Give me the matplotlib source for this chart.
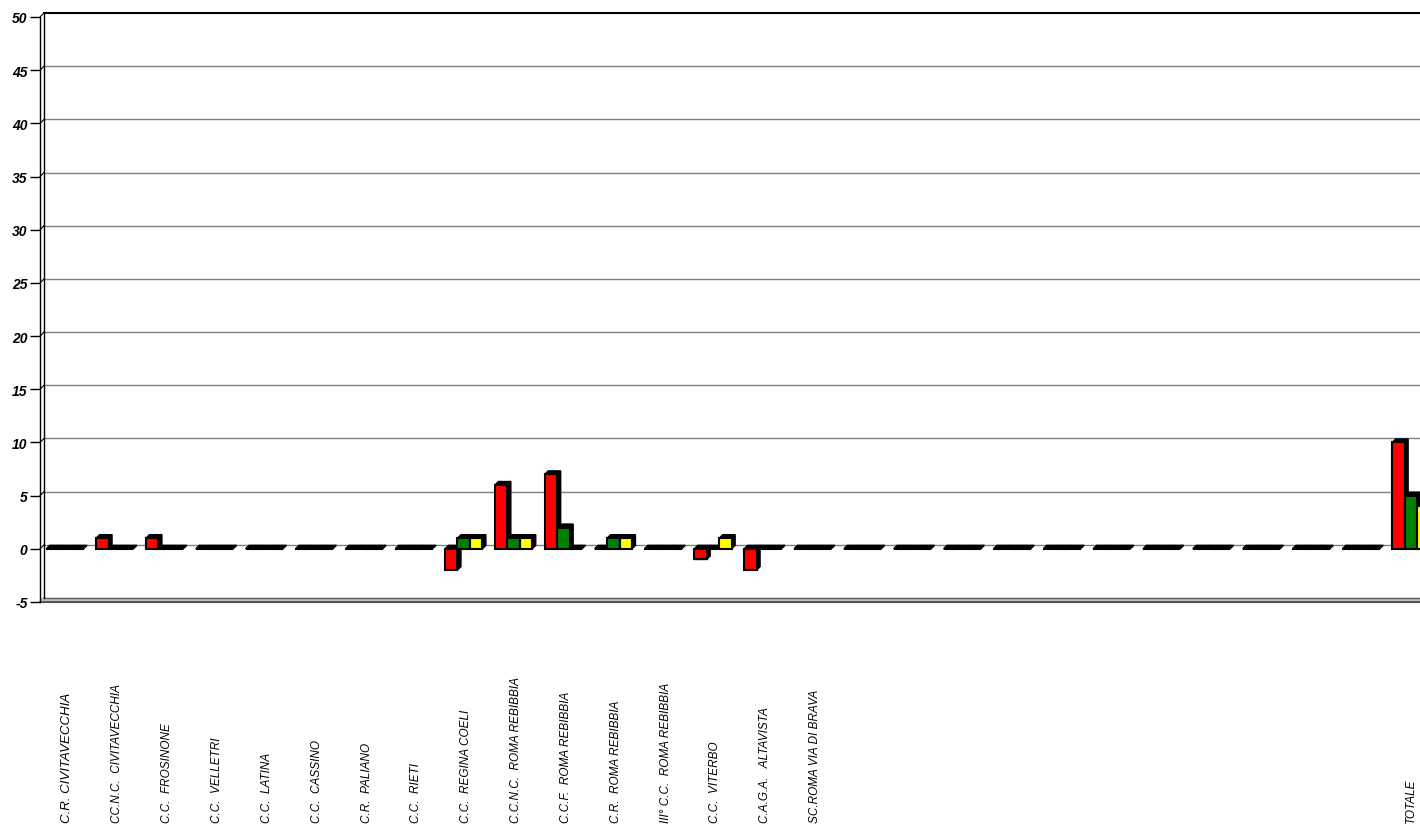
import numpy as np
import matplotlib
matplotlib.use("Agg")
from matplotlib import pyplot as plt
from matplotlib.patches import Polygon
from matplotlib import transforms

plt.rcParams['font.family'] = ['Liberation Sans', 'DejaVu Sans']

categories = [
    "C.R. CIVITAVECCHIA", "CC.N.C.  CIVITAVECCHIA", "C.C.  FROSINONE", "C.C.  VELLETRI",
    "C.C.  LATINA", "C.C.  CASSINO", "C.R.  PALIANO", "C.C.  RIETI",
    "C.C.  REGINA COELI", "C.C.N.C.  ROMA REBIBBIA", "C.C.F.  ROMA REBIBBIA",
    "C.R.  ROMA REBIBBIA", "III° C.C.  ROMA REBIBBIA", "C.C.  VITERBO",
    "C.A.G.A.   ALTAVISTA", "SC.ROMA VIA DI BRAVA",
    "", "", "", "", "", "", "", "", "", "", "",
    "TOTALE",
]
red = [0, 1, 1, 0, 0, 0, 0, 0, -2, 6, 7, 0, 0, -1, -2, 0,
       0, 0, 0, 0, 0, 0, 0, 0, 0, 0, 0, 10]
green = [0, 0, 0, 0, 0, 0, 0, 0, 1, 1, 2, 1, 0, 0, 0, 0,
         0, 0, 0, 0, 0, 0, 0, 0, 0, 0, 0, 5]
yellow = [0, 0, 0, 0, 0, 0, 0, 0, 1, 1, 0, 1, 0, 1, 0, 0,
          0, 0, 0, 0, 0, 0, 0, 0, 0, 0, 0, 4]
yticks = [-5, 0, 5, 10, 15, 20, 25, 30, 35, 40, 45, 50]

W, H = 1420, 828
cat_px = 49.85
fig = plt.figure(figsize=(W / 100, H / 100), dpi=100)
# front plane: x=-0.5 at px 40; 50 at py 18, -5 at py 603
ax = fig.add_axes([40 / W, (H - 603) / H, 1 - 40 / W, (603 - 18) / H])
ax.set_xlim(-0.5, -0.5 + (W - 40) / cat_px)
ax.set_ylim(-5, 50)
for s in ax.spines.values():
    s.set_visible(False)

px_x = 1 / cat_px
px_y = 55 / 585.0
dx, dy = 3.5 * px_x, 3.5 * px_y
wall_dx, wall_dy = 4 * px_x, 4 * px_y
x_right = ax.get_xlim()[1]

# back wall grid lines
for v in yticks[1:-1]:
    ax.plot([-0.5 + wall_dx, x_right], [v + wall_dy] * 2, color='#808080', lw=1, zorder=1)
ax.plot([-0.5 + wall_dx, x_right], [50 + wall_dy] * 2, color='black', lw=1.5, zorder=1, clip_on=False)
# slanted connectors from axis to back wall
for v in yticks:
    ax.plot([-0.5, -0.5 + wall_dx], [v, v + wall_dy], color='black', lw=0.8, zorder=1, clip_on=False)

# floor
ax.fill_between([-0.5, x_right], [-5, -5], [-5 + wall_dy] * 2, color='#c0c0c0', zorder=1, clip_on=False)
ax.plot([-0.5, x_right], [-5, -5], color='#404040', lw=1.2, zorder=1, clip_on=False)
ax.plot([-0.5 + wall_dx, x_right], [-5 + wall_dy] * 2, color='#606060', lw=1, zorder=1, clip_on=False)
# side wall
ax.plot([-0.5, -0.5], [-5, 50], color='black', lw=1, zorder=1, clip_on=False)
ax.plot([-0.5 + wall_dx] * 2, [-5 + wall_dy, 50 + wall_dy], color='black', lw=1, zorder=1, clip_on=False)

x = np.arange(len(categories))
width = 0.25
series = [(red, '#ff0000'), (green, '#008000'), (yellow, '#ffff00')]
for k, (vals, col) in enumerate(series):
    bars = ax.bar(x + (k - 1) * width, vals, width, color=col, edgecolor='black',
                  linewidth=1.5, zorder=4 + k)
    for b in bars:
        x0, x1 = b.get_x(), b.get_x() + b.get_width()
        y0 = min(b.get_y(), b.get_y() + b.get_height())
        y1 = max(b.get_y(), b.get_y() + b.get_height())
        depth = Polygon([(x0, y0), (x1, y0), (x1 + dx, y0 + dy), (x1 + dx, y1 + dy),
                         (x0 + dx, y1 + dy), (x0, y1)], closed=True,
                        facecolor='black', edgecolor='black', lw=1, zorder=3.5 + k)
        ax.add_patch(depth)

ax.set_xticks([])
ax.set_yticks(yticks)
ax.set_yticklabels([str(v) for v in yticks], fontsize=10, fontweight='bold', fontstyle='italic')
ax.tick_params(axis='y', length=7, width=1, direction='out', pad=2)

trans = transforms.blended_transform_factory(ax.transData, fig.transFigure)
for i, lab in enumerate(categories):
    if not lab:
        continue
    fs = 9.5 if i == 0 else 8.5
    off = 0.0 if i == len(categories) - 1 else 0.05
    ax.text(i + off, 5 / H, lab, transform=trans, rotation=90, ha='center', va='bottom',
            fontsize=fs, fontstyle='italic', clip_on=False)

fig.savefig("out.png", dpi=100)
